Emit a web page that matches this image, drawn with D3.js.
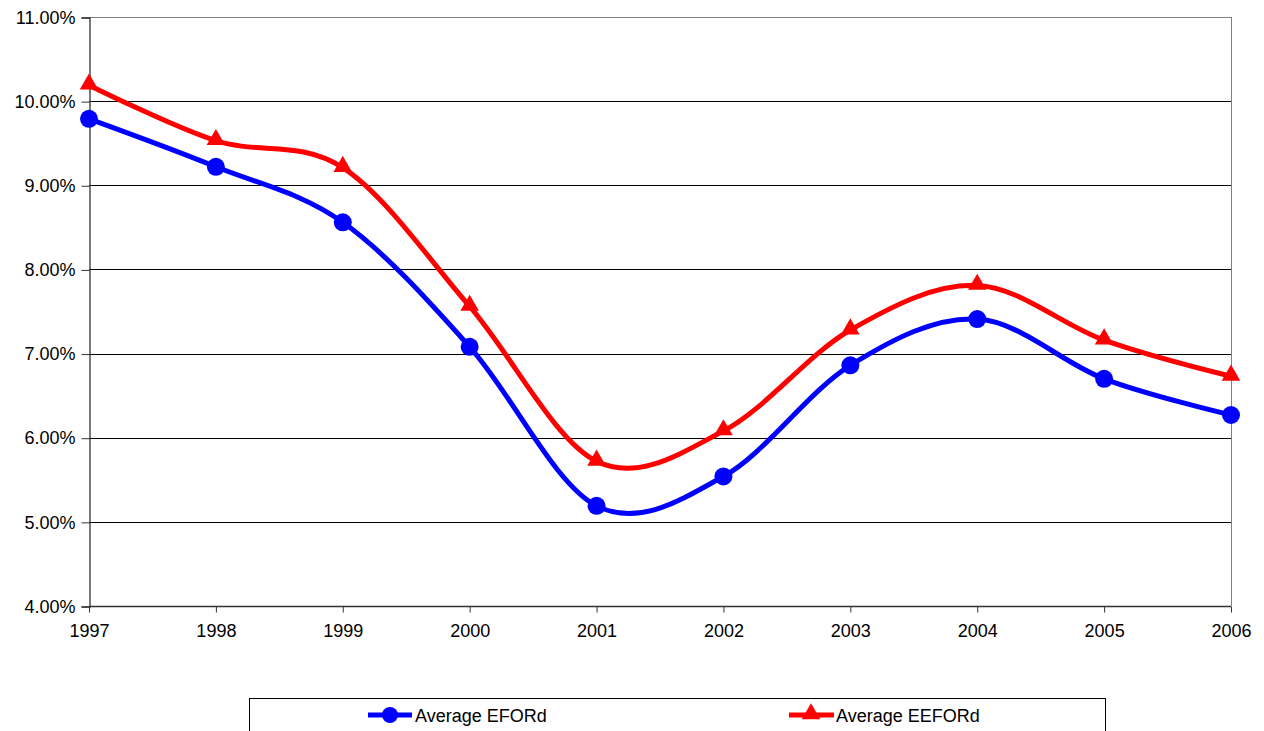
<!DOCTYPE html>
<html>
<head>
<meta charset="utf-8">
<title>Average EFORd vs EEFORd</title>
<style type="text/css">
	body{ margin:0; background:#fff; }
	svg{ display:block; font-family:"Liberation Sans", Arial, sans-serif; }
</style>
</head>
<body>
<div id="chart"></div>
<script src="https://cdn.jsdelivr.net/npm/d3@7"></script>
<script>
	// data
	var years = ['1997','1998','1999','2000','2001','2002','2003','2004','2005','2006'];
	var eford = [9.79, 9.22, 8.56, 7.08, 5.19, 5.54, 6.86, 7.41, 6.70, 6.27];
	var eeford = [10.19, 9.53, 9.21, 7.56, 5.72, 6.08, 7.28, 7.81, 7.16, 6.73];
	var yTicks = [4, 5, 6, 7, 8, 9, 10, 11];
	var seriesNames = ['Average EFORd', 'Average EEFORd'];

	var W = 1264, H = 731;
	var pL = 89, pR = 1231, pT = 17, pB = 606;

	var svg = d3.select('#chart').append('svg')
		.attr('width', W).attr('height', H);

	var x = d3.scalePoint().domain(years).range([pL, pR]);
	var y = d3.scaleLinear().domain([4, 11]).range([pB, pT]);

	// gridlines
	svg.append('g').selectAll('line')
		.data(yTicks.slice(1))
		.enter().append('line')
		.attr('x1', pL).attr('x2', pR)
		.attr('y1', function(d){ return Math.round(y(d)) + 0.5; })
		.attr('y2', function(d){ return Math.round(y(d)) + 0.5; })
		.style('stroke', function(d){ return d == 11 ? '#808080' : '#000'; })
		.style('stroke-width', 1);

	// right border of plot area
	svg.append('line')
		.attr('x1', pR + 0.5).attr('x2', pR + 0.5)
		.attr('y1', pT).attr('y2', pB)
		.style('stroke', '#808080').style('stroke-width', 1);

	// y axis
	var yAxis = d3.axisLeft(y)
		.tickValues(yTicks)
		.tickSize(8)
		.tickPadding(6)
		.tickFormat(function(d){ return d.toFixed(2) + '%'; });
	var gy = svg.append('g')
		.attr('transform', 'translate(' + (pL + 0.5) + ',0.5)')
		.call(yAxis);

	// x axis
	var xAxis = d3.axisBottom(x).tickSize(6).tickPadding(12);
	var gx = svg.append('g')
		.attr('transform', 'translate(0,' + (pB + 0.5) + ')')
		.call(xAxis);

	[gy, gx].forEach(function(g){
		g.select('.domain').style('stroke', '#333').style('stroke-width', 1.3);
		g.selectAll('.tick line').style('stroke', '#333');
		g.selectAll('.tick text').style('font-size', '18px').style('fill', '#000');
	});
	gx.select('.domain').attr('d', 'M' + pL + ',0H' + pR);

	var line = d3.line()
		.x(function(d, i){ return x(years[i]); })
		.y(function(d){ return y(d); })
		.curve(d3.curveCatmullRom.alpha(0));

	// blue series
	svg.append('path')
		.datum(eford)
		.attr('d', line)
		.style('fill', 'none').style('stroke', '#0000ff').style('stroke-width', 5);
	svg.append('g').selectAll('circle')
		.data(eford)
		.enter().append('circle')
		.attr('cx', function(d, i){ return x(years[i]); })
		.attr('cy', function(d){ return y(d); })
		.attr('r', 9)
		.style('fill', '#0000ff');

	// red series
	var tri = d3.symbol().type(d3.symbolTriangle).size(150);
	svg.append('path')
		.datum(eeford)
		.attr('d', line)
		.style('fill', 'none').style('stroke', '#ff0000').style('stroke-width', 5);
	svg.append('g').selectAll('path')
		.data(eeford)
		.enter().append('path')
		.attr('d', tri)
		.attr('transform', function(d, i){ return 'translate(' + x(years[i]) + ',' + (y(d) - 1) + ')'; })
		.style('fill', '#ff0000');

	// legend
	var lg = svg.append('g');
	lg.append('rect')
		.attr('x', 249.5).attr('y', 698.5)
		.attr('width', 856).attr('height', 60)
		.style('fill', '#fff').style('stroke', '#000').style('stroke-width', 1);

	lg.append('line')
		.attr('x1', 368).attr('x2', 412).attr('y1', 715).attr('y2', 715)
		.style('stroke', '#0000ff').style('stroke-width', 5);
	lg.append('circle')
		.attr('cx', 390).attr('cy', 715).attr('r', 8)
		.style('fill', '#0000ff');
	lg.append('text')
		.attr('x', 415).attr('y', 722)
		.style('font-size', '18px')
		.text(seriesNames[0]);

	lg.append('line')
		.attr('x1', 789).attr('x2', 834).attr('y1', 715).attr('y2', 715)
		.style('stroke', '#ff0000').style('stroke-width', 5);
	lg.append('path')
		.attr('d', tri)
		.attr('transform', 'translate(811,714)')
		.style('fill', '#ff0000');
	lg.append('text')
		.attr('x', 836).attr('y', 722)
		.style('font-size', '18px')
		.text(seriesNames[1]);
</script>
</body>
</html>
